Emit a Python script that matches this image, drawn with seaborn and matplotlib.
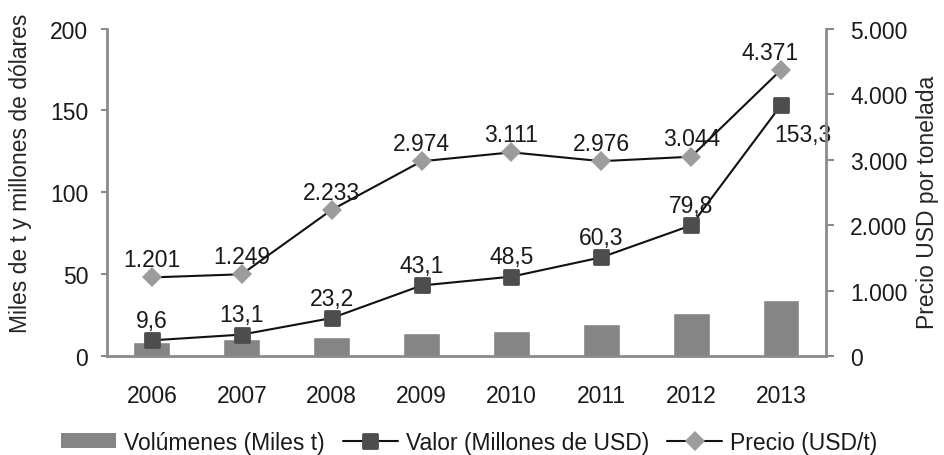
import numpy as np
import pandas as pd
import matplotlib
matplotlib.use("Agg")
import matplotlib.pyplot as plt
from matplotlib.patches import Patch
from matplotlib.lines import Line2D
from matplotlib.markers import MarkerStyle
import seaborn as sns

years = [2006, 2007, 2008, 2009, 2010, 2011, 2012, 2013]
volumenes = [8.6, 10.2, 11.4, 14.3, 15.5, 19.5, 26.1, 34.2]
valor = [9.6, 13.1, 23.2, 43.1, 48.5, 60.3, 79.8, 153.3]
precio = [1201, 1249, 2233, 2974, 3111, 2976, 3044, 4371]

df = pd.DataFrame({'year': years, 'volumenes': volumenes,
                   'valor': valor, 'precio': precio})

sns.set_theme(style='white')
plt.rcParams['font.family'] = ['Liberation Sans', 'DejaVu Sans']
plt.rcParams['text.color'] = '#1a1a1a'

axis_grey = '#8a8a8a'
bar_grey = '#858585'
valor_grey = '#4d4d4d'
precio_grey = '#9c9c9c'
line_col = '#111111'
fs = 16.5

fig = plt.figure(figsize=(9.44, 4.56), dpi=100)
ax = fig.add_axes([0.1133, 0.217, 0.7617, 0.718])
ax2 = ax.twinx()

sns.barplot(data=df, x='year', y='volumenes', native_scale=True, width=0.41,
            color=bar_grey, saturation=1, ax=ax, zorder=1)

sq = MarkerStyle('s', joinstyle='round')
sns.lineplot(data=df, x='year', y='valor', ax=ax, color=line_col, linewidth=1.5,
             marker=sq, markersize=10, markerfacecolor=valor_grey,
             markeredgecolor=valor_grey, markeredgewidth=2, legend=False, zorder=3)

sns.lineplot(data=df, x='year', y='precio', ax=ax2, color=line_col, linewidth=1.5,
             marker='D', markersize=10.5, markerfacecolor=precio_grey,
             markeredgecolor=precio_grey, markeredgewidth=0, legend=False, zorder=3)

# data labels
for x, v in zip(years, valor):
    txt = f"{v:.1f}".replace('.', ',')
    if x == years[-1]:
        ax.annotate(txt, (x, v), xytext=(16, -13), textcoords='offset points',
                    ha='center', va='top', fontsize=fs)
    else:
        ax.annotate(txt, (x, v), xytext=(0, 6), textcoords='offset points',
                    ha='center', va='bottom', fontsize=fs)
for x, v in zip(years, precio):
    txt = f"{v:,}".replace(',', '.')
    dx = -8 if x == years[-1] else 0
    ax2.annotate(txt, (x, v), xytext=(dx, 4.5), textcoords='offset points',
                 ha='center', va='bottom', fontsize=fs)

ax.set_xlim(2005.5, 2013.5)
ax.set_ylim(0, 200)
ax.set_yticks([0, 50, 100, 150, 200])
ax2.set_ylim(0, 5000)
ax2.set_yticks([0, 1000, 2000, 3000, 4000, 5000])
ax2.set_yticklabels([f"{t:,}".replace(',', '.') for t in range(0, 5001, 1000)])
ax.set_xticks(years)
ax.set_xticklabels([str(y) for y in years])

ax.set_xlabel('')
ax.set_ylabel('Miles de t y millones de dólares', fontsize=fs)
ax2.set_ylabel('Precio USD por tonelada', fontsize=fs)
ax.yaxis.set_label_coords(-0.104, 0.562)
ax2.yaxis.set_label_coords(1.125, 0.473)

for a in (ax, ax2):
    a.spines['top'].set_visible(False)
    for s in ('left', 'right', 'bottom'):
        a.spines[s].set_color(axis_grey)
        a.spines[s].set_linewidth(2)
ax.spines['right'].set_visible(False)
ax2.spines['left'].set_visible(False)
ax2.spines['bottom'].set_visible(False)

ax.tick_params(axis='y', left=True, length=4.5, width=1.5, color=axis_grey,
               labelsize=fs, pad=9, labelcolor='#1a1a1a')
ax.tick_params(axis='x', bottom=False, labelsize=fs, pad=14, labelcolor='#1a1a1a')
ax2.tick_params(axis='y', right=True, length=5.5, width=1.5, color=axis_grey,
                labelsize=fs, pad=12, labelcolor='#1a1a1a')

handles = [
    Patch(facecolor=bar_grey, edgecolor='none', label='Volúmenes (Miles t)'),
    Line2D([], [], color=line_col, linewidth=1.5, marker=sq, markersize=10,
           markerfacecolor=valor_grey, markeredgecolor=valor_grey,
           markeredgewidth=2, label='Valor (Millones de USD)'),
    Line2D([], [], color=line_col, linewidth=1.5, marker='D', markersize=10.5,
           markerfacecolor=precio_grey, markeredgewidth=0,
           label='Precio (USD/t)'),
]
fig.legend(handles=handles, loc='center', bbox_to_anchor=(0.497, 0.0285),
           ncol=3, frameon=False, fontsize=fs, handlelength=2.4,
           handleheight=0.6, handletextpad=0.35, columnspacing=0.8)

fig.savefig('out.png', dpi=100)
